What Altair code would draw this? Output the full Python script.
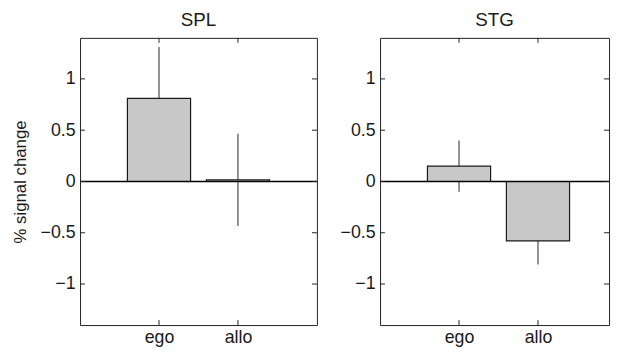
import altair as alt
import pandas as pd

# ---- data ----
regions = ["SPL", "SPL", "STG", "STG"]
conditions = ["ego", "allo", "ego", "allo"]
positions = [1, 2, 1, 2]
means = [0.81, 0.015, 0.15, -0.58]
errors = [0.50, 0.45, 0.25, 0.23]

panel_titles = ["SPL", "STG"]
x_categories = ["ego", "allo"]
x_tick_positions = [1, 2]
y_ticks = [-1, -0.5, 0, 0.5, 1]
y_domain = [-1.4, 1.4]
x_domains = [[0, 3], [0, 2.9]]   # right panel is cut off at the image edge
widths = [240, 232]

H = 291
FONT = "Liberation Sans"

df = pd.DataFrame({
    "region": regions,
    "cond": conditions,
    "pos": positions,
    "mean": means,
    "err": errors,
})
df["lo"] = df["mean"] - df["err"]
df["hi"] = df["mean"] + df["err"]

label_expr = " : ".join(
    f"datum.value == {p} ? '{c}'" for p, c in zip(x_tick_positions, x_categories)
) + " : ''"


def panel(name, show_ytitle, x_domain, W):
    d = df[df["region"] == name]
    xscale = alt.Scale(domain=x_domain, nice=False, zero=False)
    yscale = alt.Scale(domain=y_domain, nice=False, zero=False)
    xaxis = alt.Axis(values=x_tick_positions, labelExpr=label_expr, title=None,
                     ticks=False, tickSize=0, domain=False, grid=False,
                     labelPadding=4)
    yaxis = alt.Axis(values=y_ticks, format="~g",
                     title="% signal change" if show_ytitle else None,
                     ticks=False, tickSize=0, domain=False, grid=False,
                     labelPadding=5, titlePadding=11)

    def X(field):
        return alt.X(field, type="quantitative", scale=xscale, axis=xaxis)

    def Y(field):
        return alt.Y(field, type="quantitative", scale=yscale, axis=yaxis)

    base = alt.Chart(d)
    err = base.mark_rule(color="#4a4a4a", strokeWidth=1.2).encode(
        x=X("pos"), y=Y("lo"), y2="hi:Q")
    bars = base.transform_calculate(
        xa="datum.pos - 0.4", xb="datum.pos + 0.4"
    ).mark_bar(fill="#c8c8c8", stroke="#1a1a1a", strokeWidth=1.2).encode(
        x=X("xa"), x2="xb:Q", y=Y("mean"), y2=alt.datum(0))
    zero = alt.Chart(pd.DataFrame({"z": [0]})).mark_rule(
        color="#000", strokeWidth=1.6).encode(y=Y("z"))

    yt = alt.Chart(pd.DataFrame({"v": y_ticks}))
    ytl = yt.mark_rule(color="#222", strokeWidth=1).encode(
        y=Y("v"), x=alt.value(0), x2=alt.value(5))
    ytr = yt.mark_rule(color="#222", strokeWidth=1).encode(
        y=Y("v"), x=alt.value(W - 5), x2=alt.value(W))
    xt = alt.Chart(pd.DataFrame({"v": x_tick_positions}))
    xtt = xt.mark_rule(color="#222", strokeWidth=1).encode(
        x=X("v"), y=alt.value(0), y2=alt.value(5))
    xtb = xt.mark_rule(color="#222", strokeWidth=1).encode(
        x=X("v"), y=alt.value(H - 5), y2=alt.value(H))

    return alt.layer(err, bars, zero, ytl, ytr, xtt, xtb).properties(
        width=W, height=H,
        title=alt.TitleParams(name, fontSize=19, font=FONT, fontWeight="normal",
                              color="#1a1a1a", offset=8,
                              anchor="middle"),
    )


left = panel(panel_titles[0], True, x_domains[0], widths[0])
right = panel(panel_titles[1], False, x_domains[1], widths[1])

chart = alt.hconcat(left, right, spacing=20).properties(
    padding={"left": 2, "top": 0, "right": 0, "bottom": 0},
    background="white",
).configure_view(
    stroke="#222", strokeWidth=1
).configure_axis(
    labelFont=FONT, labelFontSize=18, labelColor="#1a1a1a",
    titleFont=FONT, titleFontSize=17, titleFontWeight="normal", titleColor="#1a1a1a",
)

chart.save("out.html", embed_options={"renderer": "svg", "actions": False})
